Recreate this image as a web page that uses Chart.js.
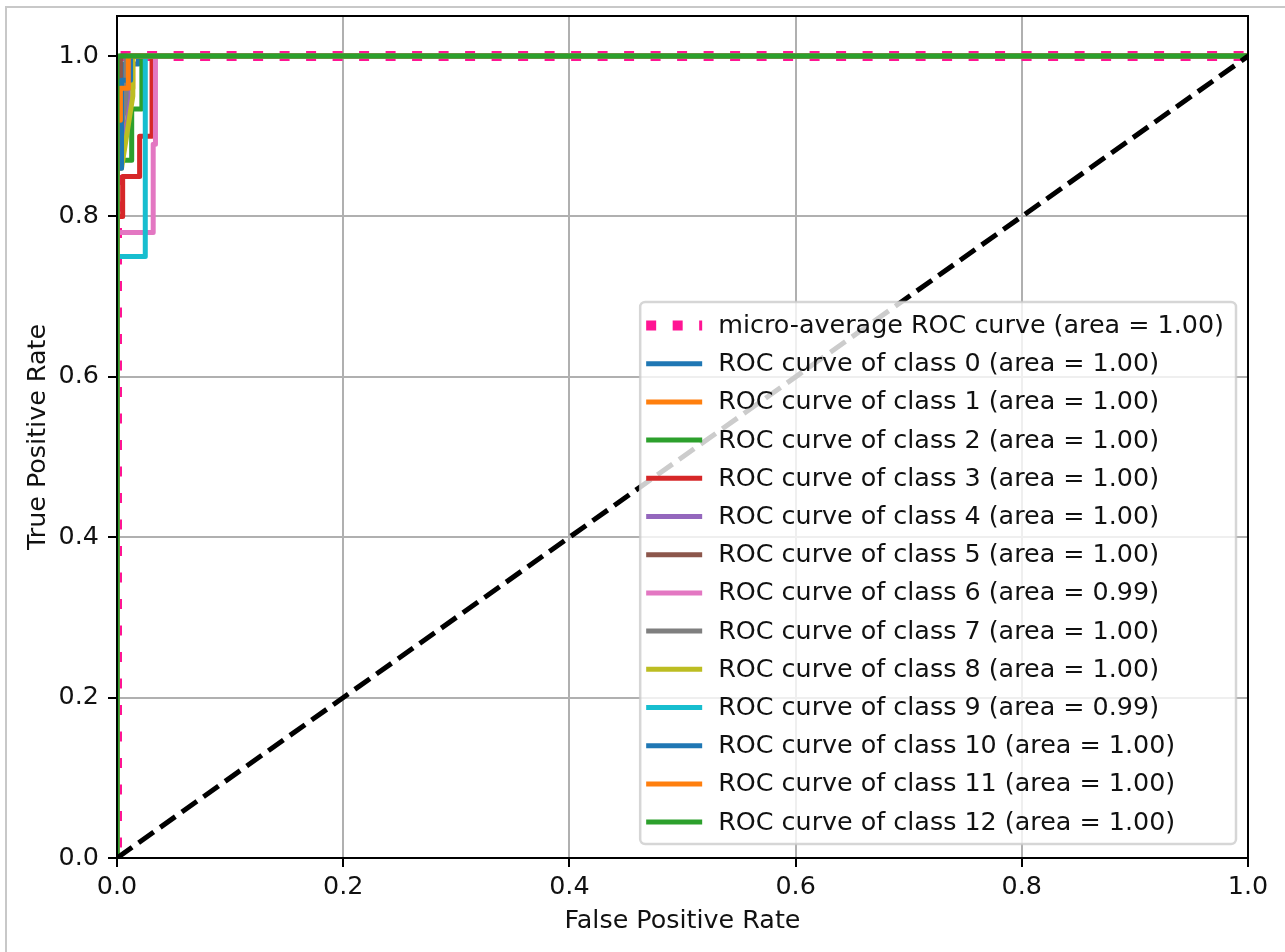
<!DOCTYPE html>
<html>
<head>
<meta charset="utf-8">
<script src="https://cdn.jsdelivr.net/npm/chart.js@4.4.0/dist/chart.umd.min.js"></script>
<style>
body { margin: 0; background: #fff; }
#wrap { position: relative; width: 1285px; height: 952px; overflow: hidden; }
#frame { position: absolute; left: 5px; top: 6px; width: 1300px; height: 960px; border-top: 2px solid #c8c8c8; border-left: 2px solid #c8c8c8; }
canvas { position: absolute; left: 0; top: 0; }
</style>
</head>
<body>
<div id="wrap"><div id="frame"></div><canvas id="roc" width="1285" height="952"></canvas></div>
<script>
// tick labels
var xTicks = [0, 0.2, 0.4, 0.6, 0.8, 1.0];
var yTicks = [0, 0.2, 0.4, 0.6, 0.8, 1.0];

// micro-average curve
var microFpr = [0, 0, 0.002, 0.002, 1];
var microTpr = [0, 0.97, 0.97, 1, 1];
var microAuc = 1.00;

// per class curves
var classFpr = [
	[0, 0, 0.005, 0.005, 0.019, 0.019, 1],
	[0, 0, 0.005, 0.005, 0.014, 0.014, 1],
	[0, 0, 0.013, 0.013, 0.022, 0.022, 1],
	[0, 0, 0.005, 0.005, 0.02, 0.02, 0.031, 0.031, 1],
	[0, 0, 0.004, 0.01, 0.01, 1],
	[0, 0, 0.003, 0.003, 1],
	[0, 0, 0.032, 0.032, 0.034, 0.034, 1],
	[0, 0, 0.005, 0.008, 0.008, 1],
	[0, 0, 0.004, 0.014, 0.014, 1],
	[0, 0, 0.025, 0.025, 1],
	[0, 0, 0.004, 0.004, 0.012, 0.012, 1],
	[0, 0, 0.003, 0.003, 0.01, 0.01, 1],
	[0, 0, 1]
];
var classTpr = [
	[0, 0.9, 0.9, 0.99, 0.99, 1, 1],
	[0, 0.87, 0.87, 0.96, 0.96, 1, 1],
	[0, 0.87, 0.87, 0.934, 0.934, 1, 1],
	[0, 0.8, 0.8, 0.85, 0.85, 0.9, 0.9, 1, 1],
	[0, 0.87, 0.875, 0.925, 1, 1],
	[0, 0.91, 0.93, 1, 1],
	[0, 0.78, 0.78, 0.89, 0.89, 1, 1],
	[0, 0.9, 0.92, 0.95, 1, 1],
	[0, 0.86, 0.86, 0.95, 1, 1],
	[0, 0.75, 0.75, 1, 1],
	[0, 0.86, 0.86, 0.97, 0.97, 1, 1],
	[0, 0.92, 0.92, 0.96, 0.96, 1, 1],
	[0, 1, 1]
];
var classAuc = [1.00, 1.00, 1.00, 1.00, 1.00, 1.00, 0.99, 1.00, 1.00, 0.99, 1.00, 1.00, 1.00];

// chance line
var diagX = [0, 1];
var diagY = [0, 1];

var classColors = ['#1f77b4', '#ff7f0e', '#2ca02c', '#d62728', '#9467bd', '#8c564b', '#e377c2',
	'#7f7f7f', '#bcbd22', '#17becf', '#1f77b4', '#ff7f0e', '#2ca02c'];

var FONT = '"DejaVu Sans", sans-serif';
var FS = 25.4;
var TEXT = '#111';

function toPts(xs, ys) {
	var pts = [];
	for (var i = 0; i < xs.length; i++) pts.push({x: xs[i], y: ys[i]});
	return pts;
}

var datasets = [];
datasets.push({
	label: 'micro-average ROC curve (area = ' + microAuc.toFixed(2) + ')',
	data: toPts(microFpr, microTpr),
	borderColor: '#ff1493',
	borderWidth: 10,
	borderDash: [10, 16.5],
	borderDashOffset: 16,
	borderCapStyle: 'butt',
	order: 20
});
for (var i = 0; i < classFpr.length; i++) {
	datasets.push({
		label: 'ROC curve of class ' + i + ' (area = ' + classAuc[i].toFixed(2) + ')',
		data: toPts(classFpr[i], classTpr[i]),
		borderColor: classColors[i],
		borderWidth: 5,
		borderJoinStyle: 'round',
		order: 19 - i
	});
}
datasets.push({
	label: '',
	data: toPts(diagX, diagY),
	borderColor: '#000',
	borderWidth: 5,
	borderDash: [18.5, 8],
	borderCapStyle: 'butt',
	order: 0
});

// spines on top of the lines, legend box inside the axes (lower right)
var frameAndLegend = {
	id: 'frameAndLegend',
	afterDatasetsDraw: function(chart) {
		var ctx = chart.ctx, a = chart.chartArea;
		ctx.save();
		ctx.strokeStyle = '#000';
		ctx.lineWidth = 2;
		ctx.strokeRect(a.left, a.top, a.right - a.left, a.bottom - a.top);
		ctx.restore();
	},
	afterDraw: function(chart) {
		var ctx = chart.ctx, a = chart.chartArea;
		var items = chart.data.datasets.filter(function(d) { return d.label; });
		ctx.save();
		ctx.font = FS + 'px ' + FONT;
		var maxW = 0;
		items.forEach(function(d) { maxW = Math.max(maxW, ctx.measureText(d.label).width); });
		var rowH = 38.2;
		var right = a.right - 12, bottom = a.bottom - 14;
		var left = right - (78 + maxW + 12);
		var top = bottom - (items.length * rowH + 7.2);
		ctx.beginPath();
		ctx.roundRect(left, top, right - left, bottom - top, 5);
		ctx.fillStyle = 'rgba(255,255,255,0.8)';
		ctx.fill();
		ctx.strokeStyle = 'rgba(204,204,204,0.8)';
		ctx.lineWidth = 2.5;
		ctx.stroke();
		items.forEach(function(d, k) {
			var y = top + 23.5 + k * rowH;
			ctx.beginPath();
			ctx.setLineDash(d.borderDash || []);
			ctx.lineDashOffset = 0;
			ctx.lineCap = 'butt';
			ctx.lineWidth = d.borderWidth;
			ctx.strokeStyle = d.borderColor;
			ctx.moveTo(left + 6, y);
			ctx.lineTo(left + 62, y);
			ctx.stroke();
			ctx.setLineDash([]);
			ctx.fillStyle = TEXT;
			ctx.textBaseline = 'middle';
			ctx.textAlign = 'left';
			ctx.fillText(d.label, left + 78, y + 1);
		});
		ctx.restore();
	}
};

var ctx = document.getElementById('roc');
var rocChart = new Chart(ctx, {
	type: 'line',
	data: { datasets: datasets },
	options: {
		responsive: false,
		animation: false,
		events: [],
		layout: { padding: { top: 16, right: 37, bottom: 0, left: 0 } },
		elements: { point: { radius: 0 }, line: { tension: 0, fill: false } },
		plugins: { legend: { display: false }, tooltip: { enabled: false } },
		scales: {
			x: {
				type: 'linear', min: 0, max: 1,
				afterBuildTicks: function(s) { s.ticks = xTicks.map(function(v) { return {value: v}; }); },
				afterFit: function(s) { s.height = 94; s.paddingLeft = 0; s.paddingRight = 0; },
				ticks: { callback: function(v) { return v.toFixed(1); }, font: { family: FONT, size: FS }, color: TEXT, padding: 5, maxRotation: 0 },
				grid: { color: '#b0b0b0', lineWidth: 2, tickColor: '#000', tickLength: 9, tickWidth: 2 },
				border: { display: true, color: '#000', width: 2 },
				title: { display: true, text: 'False Positive Rate', font: { family: FONT, size: FS }, color: TEXT, padding: { top: 0, bottom: 15 } }
			},
			y: {
				type: 'linear', min: 0, max: 1.05,
				afterBuildTicks: function(s) { s.ticks = yTicks.map(function(v) { return {value: v}; }); },
				afterFit: function(s) { s.width = 117; s.paddingTop = 0; s.paddingBottom = 0; },
				ticks: { callback: function(v) { return v.toFixed(1); }, font: { family: FONT, size: FS }, color: TEXT, padding: 9 },
				grid: { color: '#b0b0b0', lineWidth: 2, tickColor: '#000', tickLength: 9, tickWidth: 2 },
				border: { display: true, color: '#000', width: 2 },
				title: { display: true, text: 'True Positive Rate', font: { family: FONT, size: FS }, color: TEXT, padding: { top: 23, bottom: 0 } }
			}
		}
	},
	plugins: [frameAndLegend]
});
</script>
</body>
</html>
